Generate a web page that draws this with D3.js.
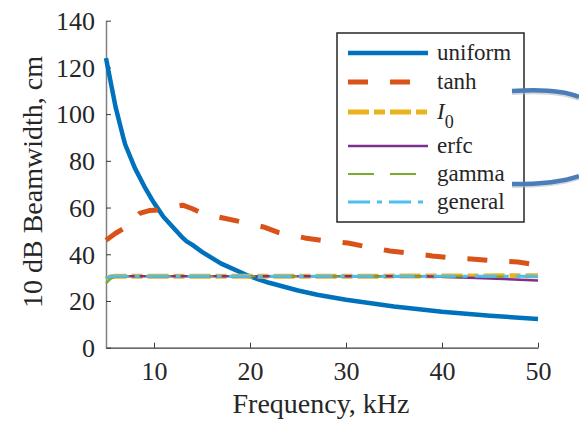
<!DOCTYPE html>
<html><head><meta charset="utf-8">
<script src="https://cdn.jsdelivr.net/npm/d3@7"></script>
<style>body{margin:0;background:#fff}</style>
</head><body><svg id="c" width="579" height="422"></svg>
<script>
// Data
const uniformF = [5,6,6.8,7,8,9,9.7,10,11,12,13,13.4,14,15,17,20,22,25,27,30,35,40,45,50];
const uniformV = [124,103,90,87,77,69,64,62,56,51.5,47,45.5,44,41,36,30.5,27.8,24.5,22.7,20.5,17.6,15.4,13.7,12.3];
const tanhF = [5,6,6.8,7.5,8.5,9.5,10.5,11.5,13,14,14.8,16,17.2,19.2,21.4,23,25.7,27.8,30.2,32.3,34.6,36.7,39,41.1,43.4,45.6,47.9,50];
const tanhV = [46,49,51,54,57.5,58.7,59,60,61,59.5,58,56.5,55.5,53.8,51.7,49.3,47,45.7,44.8,43.1,41.4,40.5,39.3,38.4,37.9,37.1,36.7,35.4];
const i0F = [5,5.5,6,10,20,30,40,50];
const i0V = [29.5,30.4,30.6,30.6,30.6,30.6,30.7,30.8];
const erfcF = [5,5.5,6,10,20,30,38,40,45,50];
const erfcV = [29.8,30.4,30.6,30.6,30.6,30.6,30.6,30.4,29.6,28.8];
const gammaF = [5,5.5,6,10,20,30,40,50];
const gammaV = [27.5,29.5,30.6,30.6,30.6,30.6,30.6,30.4];
const generalF = [5,5.5,6,10,20,30,40,50];
const generalV = [29.8,30.5,30.6,30.6,30.6,30.6,30.6,30.6];
const xTicks = [10,20,30,40,50];
const yTicks = [0,20,40,60,80,100,120,140];
const seriesNames = ["uniform","tanh","I0","erfc","gamma","general"];

const FONT = "'Liberation Serif', 'DejaVu Serif', serif";
const svg = d3.select("#c");
const x = d3.scaleLinear().domain([5,50]).range([106,538]);
const y = d3.scaleLinear().domain([0,140]).range([347.7,20.7]);

// axes
const gx = svg.append("g").attr("transform","translate(0,347.7)")
  .call(d3.axisBottom(x).tickValues(xTicks).tickSizeInner(-5).tickSizeOuter(0).tickPadding(14));
gx.attr("font-family",FONT);
gx.select(".domain").attr("stroke","#3a3a3a").attr("stroke-width",1.3);
gx.selectAll(".tick line").attr("stroke","#3a3a3a");
gx.selectAll("text").attr("font-size",26).attr("dy","0.71em").style("font-family",FONT).attr("fill","#262626");

const gy = svg.append("g").attr("transform","translate(106,0)")
  .call(d3.axisLeft(y).tickValues(yTicks).tickSizeInner(-5).tickSizeOuter(0).tickPadding(11));
gy.attr("font-family",FONT);
gy.select(".domain").attr("stroke","#808080").attr("stroke-width",1.5);
gy.selectAll(".tick line").attr("stroke","#3a3a3a");
gy.selectAll("text").attr("font-size",26).attr("dy","0.34em").style("font-family",FONT).attr("fill","#262626");

svg.append("text").attr("x",321).attr("y",413).attr("text-anchor","middle").attr("font-size",28)
  .style("font-family",FONT).attr("fill","#262626").text("Frequency, kHz");
svg.append("text").attr("transform","translate(42,182) rotate(-90)").attr("text-anchor","middle").attr("font-size",28)
  .style("font-family",FONT).attr("fill","#262626").text("10 dB Beamwidth, cm");

const line = d3.line().x(d=>x(d[0])).y(d=>y(d[1]));
const zip = (a,b)=>a.map((v,i)=>[v,b[i]]);
const styles = [
  {f:uniformF,v:uniformV,c:"#0072BD",w:4.5,d:null},
  {f:tanhF,v:tanhV,c:"#D95319",w:5,d:"20,22"},
  {f:i0F,v:i0V,c:"#EDB120",w:5,d:"21,5,11,5"},
  {f:erfcF,v:erfcV,c:"#7E2F8E",w:2.5,d:null},
  {f:gammaF,v:gammaV,c:"#77AC30",w:2.2,d:"26,16"},
  {f:generalF,v:generalV,c:"#4DBEEE",w:3,d:"22,7,5,7"}
];
const plot = svg.append("g");
styles.forEach(s=>{
  plot.append("path").datum(zip(s.f,s.v)).attr("d",line).attr("fill","none")
    .attr("stroke",s.c).attr("stroke-width",s.w).attr("stroke-dasharray",s.d)
    .attr("stroke-linejoin","round");
});

// legend
const lg = svg.append("g");
lg.append("rect").attr("x",337).attr("y",33).attr("width",187).attr("height",189)
  .attr("fill","#fff").attr("stroke","#262626").attr("stroke-width",1.5);
const ly = [53,82,112,146,174,202];
styles.forEach((s,i)=>{
  lg.append("line").attr("x1",348).attr("x2",428).attr("y1",ly[i]).attr("y2",ly[i])
    .attr("stroke",s.c).attr("stroke-width",s.w).attr("stroke-dasharray",s.d);
  const t = lg.append("text").attr("x",437).attr("y",ly[i]+7).attr("font-size",23)
    .style("font-family",FONT).attr("fill","#262626");
  if(seriesNames[i]==="I0"){
    t.append("tspan").attr("font-style","italic").text("I");
    t.append("tspan").attr("font-size",18).attr("dy",9).text("0");
  } else t.text(seriesNames[i]);
});

// callout braces (decoration)
const cp = [["M512,93 C540,91 565,93 579,99","M512,91 C540,89 565,91 579,97"],
            ["M512,186 C540,186 565,183 579,178","M512,184 C540,184 565,181 579,176"]];
cp.forEach(p=>{
  svg.append("path").attr("d",p[0]).attr("fill","none").attr("stroke","#bbb").attr("stroke-width",4).attr("opacity",0.6);
  svg.append("path").attr("d",p[1]).attr("fill","none").attr("stroke","#4a7dba").attr("stroke-width",4.5);
});
</script></body></html>
